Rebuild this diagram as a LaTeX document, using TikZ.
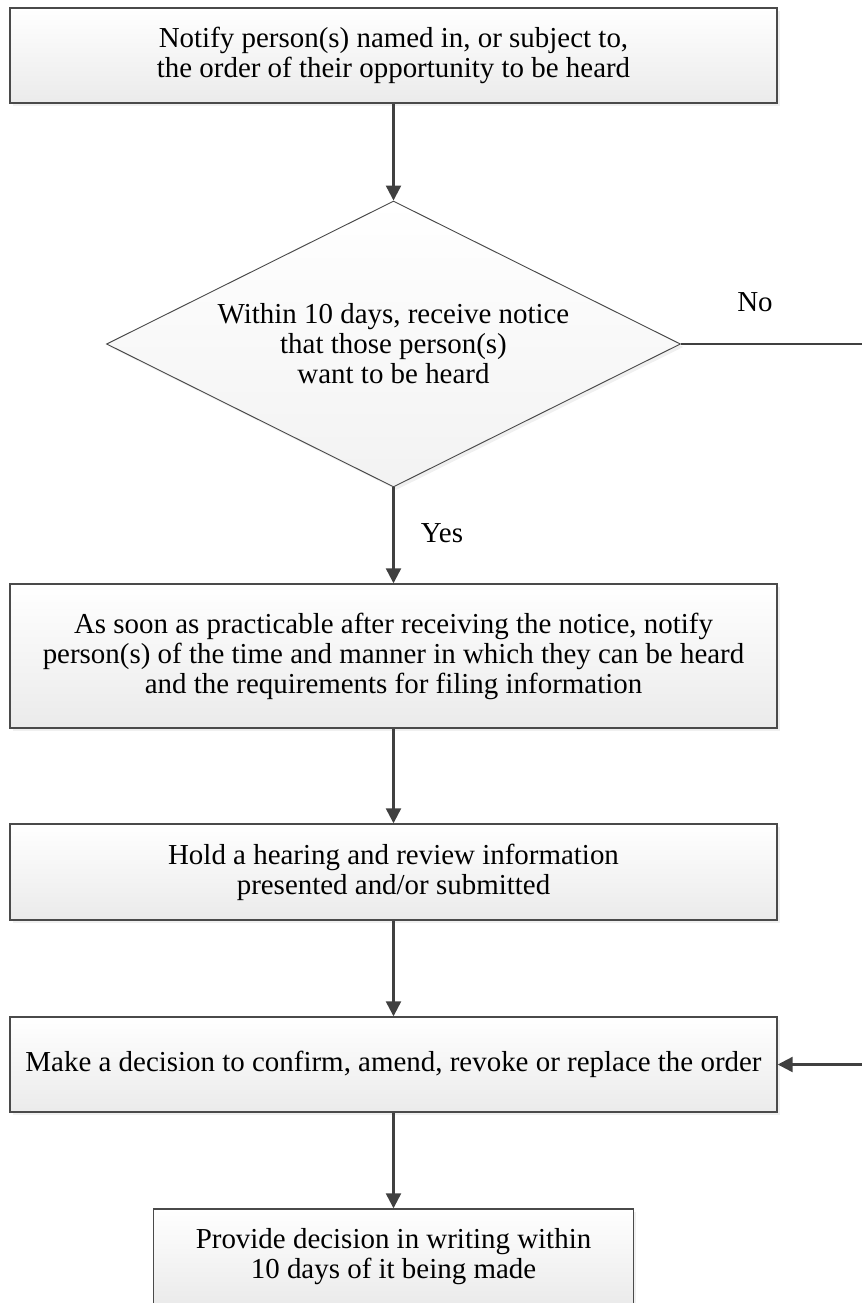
\documentclass[tikz,border=0pt]{standalone}
\usepackage{fontspec}
\setmainfont{Liberation Serif}
\usetikzlibrary{arrows.meta,shapes.geometric,shadows}

\definecolor{edge}{HTML}{4A4A4A}
\definecolor{lnk}{HTML}{404040}

\begin{document}
\begin{tikzpicture}[x=0.03cm,y=-0.03cm,
  >={Triangle[length=0.45cm,width=0.45cm]},
  box/.style={draw=edge,line width=1.2pt,top color=white,bottom color=black!8,
    drop shadow={opacity=0.12,shadow xshift=2.5pt,shadow yshift=-2.5pt},
    align=center,inner sep=0pt,minimum width=23.01cm,
    font=\fontsize{24.7pt}{25.6pt}\selectfont},
  ask/.style={diamond,shape aspect=2,draw=edge,line width=0.8pt,top color=white,bottom color=black!5,
    drop shadow={opacity=0.12,shadow xshift=2.5pt,shadow yshift=-2.5pt},
    align=center,inner sep=0pt,minimum width=17.22cm,minimum height=8.58cm,
    font=\fontsize{24.7pt}{25.6pt}\selectfont},
  lnk/.style={draw=lnk,line width=2pt},
  tag/.style={font=\fontsize{24.7pt}{25.6pt}\selectfont}]
  \useasboundingbox (0,0) rectangle (862,1303);
  \clip (0,0) rectangle (862,1303);
  % steps
  \node[box,minimum height=2.85cm] (notify) at (393.5,55.5)
    {Notify person(s) named in, or subject to,\\the order of their opportunity to be heard};
  \node[ask] (within) at (393.5,344)
    {Within 10 days, receive notice\\that those person(s)\\want to be heard};
  \node[box,minimum height=4.32cm] (soon) at (393.5,656)
    {As soon as practicable after receiving the notice, notify\\person(s) of the time and manner in which they can be heard\\and the requirements for filing information};
  \node[box,minimum height=2.88cm] (hold) at (393.5,872)
    {Hold a hearing and review information\\presented and/or submitted};
  \node[box,minimum height=2.85cm] (decide) at (393.5,1064.5)
    {Make a decision to confirm, amend, revoke or replace the order};
  \node[box,minimum width=14.4cm,minimum height=2.85cm] (provide) at (393.5,1256.5)
    {Provide decision in writing within\\10 days of it being made};
  \coordinate (turn) at (890,344);
  % links
  \draw[lnk,->] (notify) -- (within);
  \draw[lnk,->] (within) -- (soon);
  \draw[lnk,->] (soon) -- (hold);
  \draw[lnk,->] (hold) -- (decide);
  \draw[lnk,->] (decide) -- (provide);
  \draw[lnk,->] (within.east) -- (turn) |- (decide.east);
  \node[tag] (yes) at (442,533) {Yes};
  \node[tag] (no) at (755,302) {No};
\end{tikzpicture}
\end{document}
